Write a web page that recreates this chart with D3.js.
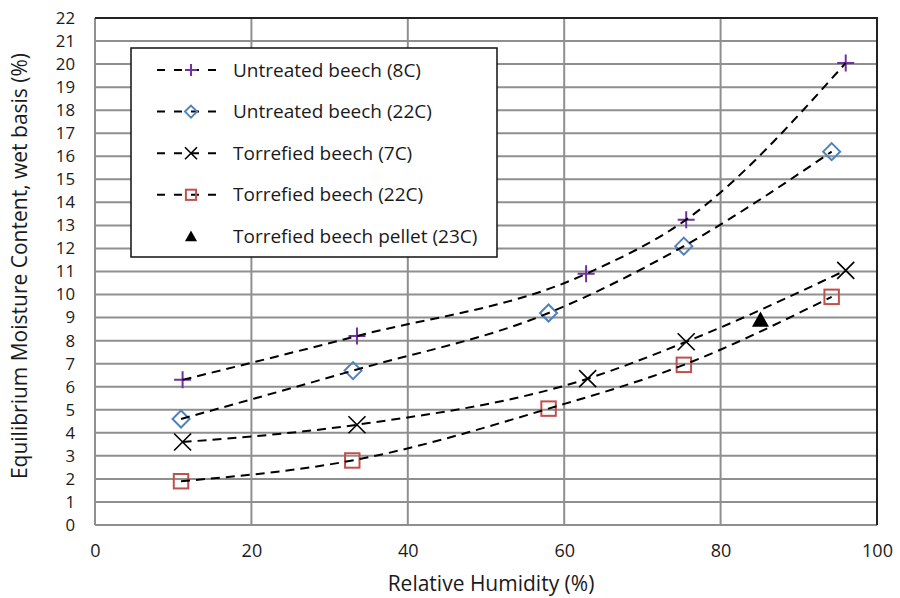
<!DOCTYPE html>
<html>
<head>
<meta charset="utf-8">
<script src="https://cdn.jsdelivr.net/npm/d3@7"></script>
<style>
  body { margin: 0; background: #fff; }
  svg text { font-family: "Open Sans", "Liberation Sans", sans-serif; fill: #1a1a1a; }
</style>
</head>
<body>
<svg id="chart" width="900" height="598"></svg>
<script>
// values
var rhU8 = [11.2, 33.5, 62.8, 75.6, 96.0];
var emcU8 = [6.3, 8.2, 10.9, 13.25, 20.05];
var rhU22 = [11.0, 33.0, 58.0, 75.3, 94.2];
var emcU22 = [4.6, 6.7, 9.2, 12.1, 16.2];
var rhT7 = [11.2, 33.5, 63.0, 75.6, 96.0];
var emcT7 = [3.6, 4.35, 6.35, 7.95, 11.05];
var rhT22 = [11.0, 32.9, 58.0, 75.3, 94.2];
var emcT22 = [1.9, 2.8, 5.05, 6.95, 9.9];
var rhPellet = [85.1];
var emcPellet = [8.9];

var seriesNames = ["Untreated beech (8C)", "Untreated beech (22C)", "Torrefied beech (7C)",
                   "Torrefied beech (22C)", "Torrefied beech pellet (23C)"];
var xTicks = [0, 20, 40, 60, 80, 100];
var yTicks = d3.range(0, 23);

(function () {
    var series = [
        {name: seriesNames[0], x: rhU8, y: emcU8, marker: "plus", color: "#7030A0", line: true},
        {name: seriesNames[1], x: rhU22, y: emcU22, marker: "diamond", color: "#4F81BD", line: true},
        {name: seriesNames[2], x: rhT7, y: emcT7, marker: "cross", color: "#000", line: true},
        {name: seriesNames[3], x: rhT22, y: emcT22, marker: "square", color: "#C0504D", line: true},
        {name: seriesNames[4], x: rhPellet, y: emcPellet, marker: "triangle", color: "#000", line: false}
    ];

    var svg = d3.select("#chart");
    var pl = 95, pr = 877, pt = 18, pb = 525;

    var x = d3.scaleLinear().domain([0, 100]).range([pl, pr]);
    var y = d3.scaleLinear().domain([0, 22]).range([pb, pt]);

    // grid
    var grid = svg.append("g").attr("stroke", "#8f8f8f").attr("stroke-width", 2);
    grid.selectAll(".hg").data(yTicks).enter().append("line")
        .attr("x1", pl).attr("x2", pr)
        .attr("y1", function(d) { return y(d); }).attr("y2", function(d) { return y(d); });
    grid.selectAll(".vg").data(xTicks).enter().append("line")
        .attr("y1", pt).attr("y2", pb)
        .attr("x1", function(d) { return x(d); }).attr("x2", function(d) { return x(d); });

    // frame: top and right darker
    svg.append("path")
        .attr("d", "M" + pl + "," + pt + "H" + pr + "V" + pb)
        .attr("fill", "none").attr("stroke", "#222").attr("stroke-width", 2);

    // axes labels
    var xAxis = d3.axisBottom(x).tickValues(xTicks).tickSize(0).tickPadding(19);
    svg.append("g").attr("transform", "translate(0," + pb + ")").call(xAxis)
        .call(function(g) { g.select(".domain").remove(); })
        .selectAll("text").style("font-size", "18px").attr("fill", "#1a1a1a");

    var yAxis = d3.axisLeft(y).tickValues(yTicks).tickSize(0).tickPadding(20);
    svg.append("g").attr("transform", "translate(" + pl + ",0)").call(yAxis)
        .call(function(g) { g.select(".domain").remove(); })
        .selectAll("text").style("font-size", "16.8px").attr("fill", "#1a1a1a");

    svg.append("text")
        .attr("x", 491).attr("y", 591)
        .attr("text-anchor", "middle").style("font-size", "21px")
        .text("Relative Humidity (%)");

    svg.append("text")
        .attr("transform", "translate(27,266) rotate(-90)")
        .attr("text-anchor", "middle").style("font-size", "21px")
        .text("Equilibrium Moisture Content, wet basis (%)");

    function drawMarker(g, type, color, s) {
        var h = s / 2;
        if (type == "plus") {
            g.append("path").attr("d", "M" + (-h) + ",0H" + h + "M0," + (-h) + "V" + h)
                .attr("stroke", color).attr("stroke-width", 2).attr("fill", "none");
        } else if (type == "cross") {
            g.append("path").attr("d", "M" + (-h) + "," + (-h) + "L" + h + "," + h + "M" + (-h) + "," + h + "L" + h + "," + (-h))
                .attr("stroke", color).attr("stroke-width", 1.6).attr("fill", "none");
        } else if (type == "diamond") {
            g.append("path").attr("d", "M0," + (-h) + "L" + h + ",0L0," + h + "L" + (-h) + ",0Z")
                .attr("stroke", color).attr("stroke-width", 2).attr("fill", "none");
        } else if (type == "square") {
            var q = h * 0.85;
            g.append("rect").attr("x", -q).attr("y", -q).attr("width", 2 * q).attr("height", 2 * q)
                .attr("stroke", color).attr("stroke-width", 2).attr("fill", "none");
        } else if (type == "triangle") {
            g.append("path").attr("d", "M0," + (-h) + "L" + h + "," + (h * 0.8) + "L" + (-h) + "," + (h * 0.8) + "Z")
                .attr("fill", color);
        }
    }

    // markers
    series.forEach(function(s) {
        var pts = s.x.map(function(v, i) { return [v, s.y[i]]; });
        svg.append("g").selectAll("g").data(pts).enter().append("g")
            .attr("transform", function(d) { return "translate(" + x(d[0]) + "," + y(d[1]) + ")"; })
            .each(function() { drawMarker(d3.select(this), s.marker, s.color, 17); });
    });

    // dashed trend lines
    var line = d3.line()
        .x(function(d) { return x(d[0]); })
        .y(function(d) { return y(d[1]); })
        .curve(d3.curveMonotoneX);

    series.forEach(function(s) {
        if (!s.line) return;
        var pts = s.x.map(function(v, i) { return [v, s.y[i]]; });
        svg.append("path").datum(pts)
            .attr("d", line)
            .attr("fill", "none").attr("stroke", "#000")
            .attr("stroke-width", 2).attr("stroke-dasharray", "9,6");
    });

    // legend
    var lg = svg.append("g");
    lg.append("rect").attr("x", 131).attr("y", 48).attr("width", 366).attr("height", 209)
        .attr("fill", "#fff").attr("stroke", "#111").attr("stroke-width", 1.5);

    series.forEach(function(s, i) {
        var cy = 70 + i * 41.6;
        if (s.line) {
            lg.append("line").attr("x1", 157).attr("x2", 222).attr("y1", cy).attr("y2", cy)
                .attr("stroke", "#000").attr("stroke-width", 2).attr("stroke-dasharray", "8,9");
        }
        var m = lg.append("g").attr("transform", "translate(191," + cy + ")");
        drawMarker(m, s.marker, s.color, 12);
        lg.append("text").attr("x", 233).attr("y", cy).attr("dy", "0.35em")
            .style("font-size", "19px").text(s.name);
    });
})();
</script>
</body>
</html>
